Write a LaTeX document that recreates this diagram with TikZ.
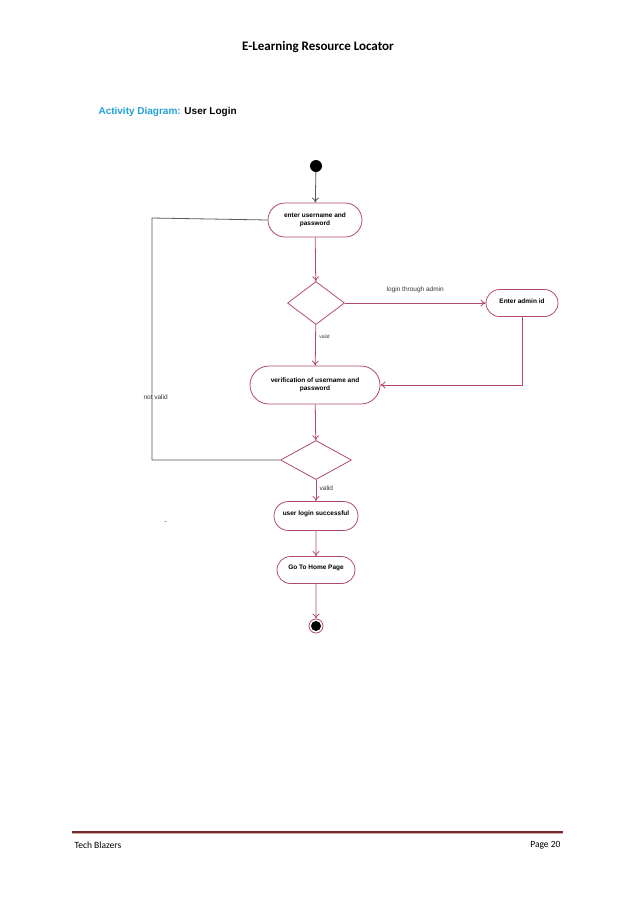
\documentclass[tikz,border=0pt]{standalone}
\usepackage{fontspec}
\setmainfont{Liberation Sans}
\newfontfamily\calib{Carlito}
\usetikzlibrary{shapes.geometric,shapes.misc,arrows.meta}
\definecolor{uml}{HTML}{B24A68}
\definecolor{cyanh}{HTML}{1FA0D8}
\definecolor{footred}{HTML}{7A2A2A}
\tikzset{
  act/.style={draw=uml,line width=0.8pt,rounded rectangle,minimum height=#1,inner sep=2pt,font=\bfseries\fontsize{6.5}{8}\selectfont,align=center},
  dec/.style={draw=uml,line width=0.8pt,diamond,aspect=1.4},
  flow/.style={draw=uml,line width=0.8pt,-{To[length=5pt,width=7pt]}},
  back/.style={draw=gray!70!black,line width=0.8pt},
  lbl/.style={font=\fontsize{6.5}{8}\selectfont,text=black!80}
}
\begin{document}
\begin{tikzpicture}[x=1pt,y=-1pt]
\useasboundingbox (0,0) rectangle (638,903);
\node[font=\calib\bfseries\fontsize{13}{15}\selectfont] (title) at (318,47) {E-Learning Resource Locator};
\node[anchor=west,font=\bfseries\fontsize{10}{12}\selectfont] (sub) at (95,112) {\textcolor{cyanh}{Activity Diagram:} User Login};

\node[circle,fill=black,minimum size=12pt,inner sep=0] (start) at (316,166) {};
\node[act=34pt,minimum width=98pt] (b1) at (315,220) {enter username and\\password};
\node[dec,minimum width=57pt,minimum height=43pt,inner sep=0] (d1) at (316,303) {};
\node[act=27pt,minimum width=76pt,anchor=center] (adm) at (522,303) {\raisebox{4pt}{Enter admin id}};
\node[act=38pt,minimum width=134pt] (b2) at (315,385) {verification of username and\\password};
\node[dec,minimum width=71pt,minimum height=39pt,inner sep=0] (d2) at (316,460) {};
\node[act=29pt,minimum width=88pt] (b3) at (316,516) {\raisebox{6pt}{user login successful}};
\node[act=27pt,minimum width=82pt] (b4) at (316,570) {\raisebox{6pt}{Go To Home Page}};
\node[circle,draw=uml,line width=0.8pt,minimum size=14pt,inner sep=0] (end) at (316,626) {};
\fill (end.center) circle (5pt);

\draw[back,-{To[length=5pt,width=7pt]}] (start) -- (b1);
\draw[flow] (b1) -- (d1);
\draw[flow] (d1) -- node[lbl,above=6pt,pos=0.5]{login through admin} (adm);
\draw[flow] (d1) -- node[lbl,right,pos=0.3,font=\fontsize{5}{6}\selectfont]{valid} (b2);
\coordinate (ac) at (522,385);
\draw[flow] (adm) -- (ac) -- (b2.east);
\draw[flow] (b2) -- (d2);
\coordinate (l1) at (152,460);
\coordinate (l2) at (152,218);
\draw[back] (d2.west) -- (l1) -- (l2) -- (b1.west);
\node[lbl,anchor=west] (nv) at (140,397) {not valid};
\draw[flow] (d2) -- node[lbl,right,pos=0.4]{valid} (b3);
\draw[flow] (b3) -- (b4);
\draw[flow] (b4) -- (end);
\draw[gray] (164,522) -- (167,521);

\draw[footred!40,line width=1.5pt] (72,833.5) -- (563,833.5);
\draw[footred,line width=2pt] (72,831.5) -- (563,831.5);
\node[anchor=west,font=\calib\fontsize{9.5}{11}\selectfont] (tb) at (71,845) {Tech Blazers};
\node[anchor=east,font=\calib\fontsize{9.5}{11}\selectfont] (pg) at (564,845) {Page 20};
\end{tikzpicture}
\end{document}
